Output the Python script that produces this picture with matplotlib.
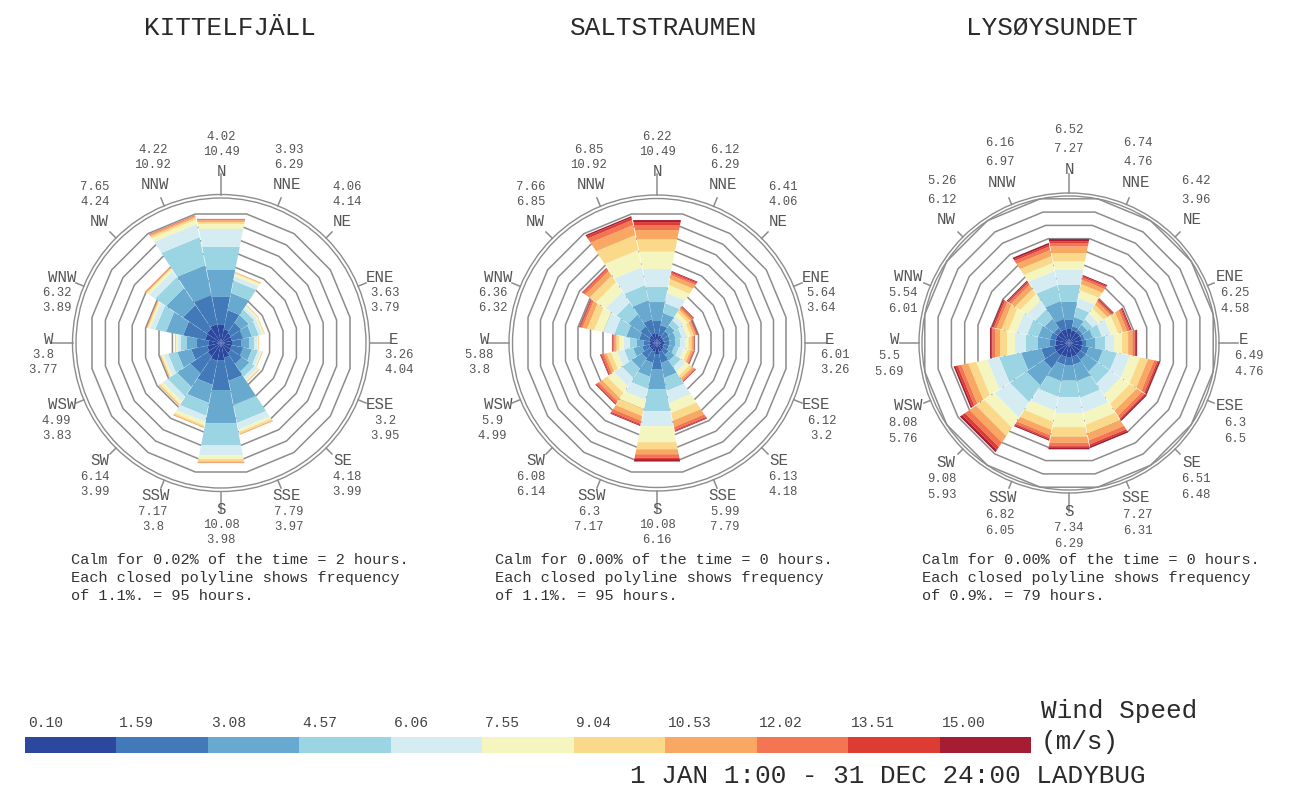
import numpy as np
import matplotlib
matplotlib.use("Agg")
import matplotlib.pyplot as plt
from matplotlib.patches import Polygon, Circle

FIG_W, FIG_H, DPI = 1294, 792, 100
MONO = ['Liberation Mono', 'DejaVu Sans Mono']

# ---------------- data ----------------
directions = ['N', 'NNE', 'NE', 'ENE', 'E', 'ESE', 'SE', 'SSE',
              'S', 'SSW', 'SW', 'WSW', 'W', 'WNW', 'NW', 'NNW']
speed_labels = ['0.10', '1.59', '3.08', '4.57', '6.06', '7.55',
                '9.04', '10.53', '12.02', '13.51', '15.00']
speed_colors = ['#2b479e', '#4279b8', '#68a9cf', '#9bd4e3', '#d5edf2', '#f5f5c0',
                '#fbd98b', '#f8a863', '#f37551', '#dc3c32', '#a51c33']
station_names = ['KITTELFJÄLL', 'SALTSTRAUMEN', 'LYSØYSUNDET']

# frequency (%) per direction and per wind-speed bin
kittelfjall_freq = [
    [0.79, 2.30, 2.21, 1.89, 1.48, 0.41, 0.16, 0.13, 0.10, 0.02, 0.00],
    [0.46, 1.56, 1.40, 0.98, 0.41, 0.19, 0.08, 0.06, 0.00, 0.00, 0.00],
    [0.30, 0.98, 0.74, 0.53, 0.25, 0.12, 0.05, 0.03, 0.00, 0.00, 0.00],
    [0.21, 0.91, 0.74, 0.57, 0.29, 0.12, 0.06, 0.02, 0.00, 0.00, 0.00],
    [0.21, 0.74, 0.66, 0.41, 0.25, 0.09, 0.05, 0.02, 0.00, 0.00, 0.00],
    [0.21, 0.91, 0.74, 0.49, 0.24, 0.10, 0.04, 0.03, 0.00, 0.00, 0.00],
    [0.30, 1.06, 0.74, 0.49, 0.29, 0.12, 0.05, 0.04, 0.00, 0.00, 0.00],
    [0.54, 1.89, 1.97, 1.48, 0.53, 0.25, 0.12, 0.06, 0.02, 0.00, 0.00],
    [0.71, 2.46, 2.71, 1.80, 0.83, 0.32, 0.19, 0.10, 0.04, 0.00, 0.00],
    [0.79, 1.97, 1.48, 1.06, 0.50, 0.28, 0.13, 0.08, 0.00, 0.00, 0.00],
    [0.62, 1.65, 1.31, 0.90, 0.50, 0.24, 0.11, 0.06, 0.00, 0.00, 0.00],
    [0.46, 1.31, 1.15, 0.74, 0.37, 0.17, 0.06, 0.06, 0.00, 0.00, 0.00],
    [0.30, 0.98, 0.82, 0.49, 0.29, 0.12, 0.05, 0.04, 0.00, 0.00, 0.00],
    [0.62, 1.81, 1.40, 0.90, 0.41, 0.16, 0.09, 0.05, 0.03, 0.00, 0.00],
    [0.71, 2.29, 1.65, 1.06, 0.58, 0.20, 0.10, 0.07, 0.04, 0.00, 0.00],
    [0.87, 2.38, 2.46, 2.30, 1.07, 0.37, 0.16, 0.13, 0.08, 0.00, 0.00],
]
saltstraumen_freq = [
    [0.44, 1.14, 1.67, 1.32, 1.58, 1.58, 1.06, 0.79, 0.44, 0.26, 0.18],
    [0.35, 0.88, 1.06, 0.88, 0.88, 0.70, 0.53, 0.35, 0.18, 0.11, 0.07],
    [0.26, 0.62, 0.62, 0.53, 0.44, 0.35, 0.26, 0.22, 0.11, 0.06, 0.04],
    [0.26, 0.53, 0.53, 0.53, 0.44, 0.35, 0.26, 0.18, 0.09, 0.05, 0.04],
    [0.26, 0.44, 0.53, 0.44, 0.44, 0.31, 0.26, 0.16, 0.08, 0.04, 0.03],
    [0.26, 0.44, 0.44, 0.44, 0.44, 0.35, 0.26, 0.18, 0.09, 0.05, 0.04],
    [0.35, 0.53, 0.62, 0.62, 0.53, 0.40, 0.31, 0.18, 0.09, 0.05, 0.04],
    [0.44, 0.97, 1.32, 1.14, 1.06, 0.88, 0.70, 0.53, 0.26, 0.11, 0.06],
    [0.62, 1.32, 1.76, 1.94, 1.32, 1.41, 0.62, 0.44, 0.29, 0.15, 0.20],
    [0.44, 0.97, 1.23, 1.06, 0.97, 0.79, 0.62, 0.44, 0.26, 0.11, 0.07],
    [0.35, 0.88, 1.06, 0.97, 0.88, 0.70, 0.53, 0.35, 0.20, 0.09, 0.06],
    [0.35, 0.62, 0.79, 0.79, 0.62, 0.53, 0.40, 0.26, 0.16, 0.09, 0.06],
    [0.26, 0.53, 0.62, 0.62, 0.53, 0.40, 0.26, 0.19, 0.11, 0.05, 0.04],
    [0.35, 0.88, 1.14, 1.06, 0.97, 0.79, 0.62, 0.40, 0.18, 0.08, 0.05],
    [0.44, 0.97, 1.23, 1.23, 1.14, 0.97, 0.70, 0.44, 0.22, 0.08, 0.05],
    [0.53, 1.23, 1.67, 1.32, 1.58, 1.50, 1.32, 0.88, 0.44, 0.22, 0.13],
]
lysoysundet_freq = [
    [0.19, 0.61, 1.22, 1.15, 1.02, 0.56, 0.57, 0.45, 0.23, 0.12, 0.15],
    [0.12, 0.27, 0.61, 0.68, 0.61, 0.54, 0.41, 0.30, 0.15, 0.09, 0.07],
    [0.12, 0.20, 0.41, 0.41, 0.47, 0.41, 0.30, 0.24, 0.14, 0.08, 0.05],
    [0.12, 0.20, 0.54, 0.61, 0.61, 0.47, 0.37, 0.27, 0.16, 0.08, 0.07],
    [0.12, 0.27, 0.61, 0.68, 0.61, 0.54, 0.41, 0.30, 0.15, 0.09, 0.07],
    [0.16, 0.44, 0.95, 0.95, 0.88, 0.68, 0.54, 0.41, 0.22, 0.10, 0.08],
    [0.16, 0.44, 0.95, 0.95, 0.88, 0.74, 0.54, 0.41, 0.22, 0.10, 0.08],
    [0.19, 0.54, 1.08, 1.15, 1.02, 0.81, 0.61, 0.44, 0.27, 0.14, 0.10],
    [0.19, 0.54, 1.02, 1.15, 1.08, 0.95, 0.64, 0.41, 0.24, 0.12, 0.09],
    [0.19, 0.54, 1.08, 1.08, 0.95, 0.74, 0.54, 0.37, 0.19, 0.10, 0.08],
    [0.26, 1.02, 1.35, 1.35, 1.22, 0.81, 0.68, 0.54, 0.34, 0.24, 0.17],
    [0.26, 0.88, 1.35, 1.49, 0.81, 0.74, 0.54, 0.47, 0.24, 0.16, 0.12],
    [0.16, 0.37, 0.81, 0.81, 0.74, 0.54, 0.47, 0.34, 0.18, 0.09, 0.07],
    [0.16, 0.37, 0.81, 0.74, 0.74, 0.54, 0.47, 0.32, 0.18, 0.10, 0.07],
    [0.16, 0.30, 0.74, 0.74, 0.68, 0.54, 0.44, 0.30, 0.17, 0.10, 0.07],
    [0.19, 0.68, 1.22, 1.08, 0.95, 0.54, 0.47, 0.41, 0.24, 0.12, 0.12],
]

# two numbers printed with each direction label (top-to-bottom order)
kittelfjall_numbers = [('4.02', '10.49'), ('3.93', '6.29'), ('4.06', '4.14'), ('3.63', '3.79'),
                       ('3.26', '4.04'), ('3.2', '3.95'), ('4.18', '3.99'), ('7.79', '3.97'),
                       ('10.08', '3.98'), ('7.17', '3.8'), ('6.14', '3.99'), ('4.99', '3.83'),
                       ('3.8', '3.77'), ('6.32', '3.89'), ('7.65', '4.24'), ('4.22', '10.92')]
saltstraumen_numbers = [('6.22', '10.49'), ('6.12', '6.29'), ('6.41', '4.06'), ('5.64', '3.64'),
                        ('6.01', '3.26'), ('6.12', '3.2'), ('6.13', '4.18'), ('5.99', '7.79'),
                        ('10.08', '6.16'), ('6.3', '7.17'), ('6.08', '6.14'), ('5.9', '4.99'),
                        ('5.88', '3.8'), ('6.36', '6.32'), ('7.66', '6.85'), ('6.85', '10.92')]
lysoysundet_numbers = [('6.52', '7.27'), ('6.74', '4.76'), ('6.42', '3.96'), ('6.25', '4.58'),
                       ('6.49', '4.76'), ('6.3', '6.5'), ('6.51', '6.48'), ('7.27', '6.31'),
                       ('7.34', '6.29'), ('6.82', '6.05'), ('9.08', '5.93'), ('8.08', '5.76'),
                       ('5.5', '5.69'), ('5.54', '6.01'), ('5.26', '6.12'), ('6.16', '6.97')]

calm_percent = ['0.02', '0.00', '0.00']
calm_hours = [2, 0, 0]
ring_percent = [1.1, 1.1, 0.9]
ring_hours = [95, 95, 79]

# ---------------- layout (pixels) ----------------
LAYOUT = [
    dict(cx=221, cy=343, ring_px=13.4, r0_px=8.4, n_rings=9, circles=(145.0, 148.5),
         title_x=230, note_x=71, dn=(16, 31), up=(19, 34), rlab=172),
    dict(cx=657, cy=343, ring_px=12.5, r0_px=4.0, n_rings=10, circles=(144.5, 148.0),
         title_x=664, note_x=495, dn=(16, 31), up=(19, 34), rlab=172),
    dict(cx=1069, cy=343, ring_px=13.3, r0_px=11.2, n_rings=10, circles=(147.0, 150.0),
         title_x=1052, note_x=922, dn=(17, 33), up=(20, 39), rlab=174),
]
HALF = 245
GRID = '#8c8c8c'
LABEL_C = '#555555'
DARK = '#2a2a2a'

fig = plt.figure(figsize=(FIG_W / DPI, FIG_H / DPI), dpi=DPI)

HW = np.deg2rad(11.25)
GAP = np.deg2rad(0.22)
KV = 1.0 / np.cos(HW)


def draw_rose(freq, numbers, ring_pct, L):
    ppp = L['ring_px'] / ring_pct
    cx, cy = L['cx'], L['cy']
    ax = fig.add_axes([(cx - HALF) / FIG_W, 1 - (cy + HALF) / FIG_H,
                       2 * HALF / FIG_W, 2 * HALF / FIG_H])
    lim = HALF / ppp
    ax.set_xlim(-lim, lim)
    ax.set_ylim(-lim, lim)
    ax.axis('off')
    r0 = L['r0_px'] / ppp

    # frequency rings (16-gons)
    ang = np.deg2rad(11.25 + 22.5 * np.arange(16))
    for j in range(1, L['n_rings'] + 1):
        rr = (r0 + j * ring_pct) * KV
        ax.add_patch(Polygon(np.c_[rr * np.sin(ang), rr * np.cos(ang)], closed=True,
                             fill=False, ec=GRID, lw=1.1, zorder=1))
    for rc in L['circles']:
        ax.add_patch(Circle((0, 0), rc / ppp, fill=False, ec=GRID, lw=1.0, zorder=1))

    # wedges
    for i, f in enumerate(freq):
        th = np.deg2rad(22.5 * i)
        a1, a2 = th - HW + GAP, th + HW - GAP
        edges = np.concatenate([[0.0], r0 + np.cumsum(f)])
        for b in range(len(f)):
            if f[b] <= 0:
                continue
            ri = edges[b] * KV if b > 0 else 0.0
            ro = edges[b + 1] * KV
            pts = [(ri * np.sin(a1), ri * np.cos(a1)), (ro * np.sin(a1), ro * np.cos(a1)),
                   (ro * np.sin(a2), ro * np.cos(a2)), (ri * np.sin(a2), ri * np.cos(a2))]
            ax.add_patch(Polygon(pts, closed=True, fc=speed_colors[b], ec='none', lw=0, zorder=2))

    # ticks and labels
    rin = L['circles'][-1] / ppp
    for i, name in enumerate(directions):
        th = np.deg2rad(22.5 * i)
        s, c = np.sin(th), np.cos(th)
        rout = (169 if i % 4 == 0 else 157) / ppp
        ax.plot([rin * s, rout * s], [rin * c, rout * c], color=GRID, lw=1.1, zorder=1)
        x = L['rlab'] * s
        y = L['rlab'] * c
        if c < 0.3:
            y += 4
        if c < -0.9:
            y += 2
        ax.text(x / ppp, y / ppp, name, ha='center', va='center', fontsize=11.3,
                family=MONO, color=LABEL_C)
        n1, n2 = numbers[i]
        xn = (x + 6 * s) / ppp
        if c > 0.5:
            y1, y2 = y + L['up'][1], y + L['up'][0]
        else:
            y1, y2 = y - L['dn'][0], y - L['dn'][1]
        ax.text(xn, y1 / ppp, n1, ha='center', va='center', fontsize=8.8,
                family=MONO, color=LABEL_C)
        ax.text(xn, y2 / ppp, n2, ha='center', va='center', fontsize=8.8,
                family=MONO, color=LABEL_C)


all_freq = [kittelfjall_freq, saltstraumen_freq, lysoysundet_freq]
all_numbers = [kittelfjall_numbers, saltstraumen_numbers, lysoysundet_numbers]

for k in range(3):
    L = LAYOUT[k]
    draw_rose(all_freq[k], all_numbers[k], ring_percent[k], L)
    fig.text(L['title_x'] / FIG_W, 1 - 28 / FIG_H, station_names[k], ha='center', va='center',
             fontsize=18.7, family=MONO, color=DARK)
    notes = [f"Calm for {calm_percent[k]}% of the time = {calm_hours[k]} hours.",
             "Each closed polyline shows frequency",
             f"of {ring_percent[k]}%. = {ring_hours[k]} hours."]
    for j, line in enumerate(notes):
        fig.text(L['note_x'] / FIG_W, 1 - (560 + 18 * j) / FIG_H, line, ha='left', va='center',
                 fontsize=11, family=MONO, color='#333333')

# ---------------- legend ----------------
lx0, lx1, ly0, ly1 = 25, 1031, 737, 753
lax = fig.add_axes([lx0 / FIG_W, 1 - ly1 / FIG_H, (lx1 - lx0) / FIG_W, (ly1 - ly0) / FIG_H])
nb = len(speed_colors)
lax.bar(np.arange(nb), np.ones(nb), width=1.0, align='edge', color=speed_colors, lw=0)
lax.set_xlim(0, nb)
lax.set_ylim(0, 1)
lax.axis('off')
for i, lab in enumerate(speed_labels):
    lax.text(i + 0.03, 1 + 14 / (ly1 - ly0), lab, transform=lax.get_xaxis_transform(),
             ha='left', va='center', fontsize=10.5, family=MONO, color='#444444')

fig.text(1041 / FIG_W, 1 - 711 / FIG_H, 'Wind Speed', ha='left', va='center',
         fontsize=18.7, family=MONO, color=DARK)
fig.text(1041 / FIG_W, 1 - 742 / FIG_H, '(m/s)', ha='left', va='center',
         fontsize=18.7, family=MONO, color=DARK)
fig.text(630 / FIG_W, 1 - 776 / FIG_H, '1 JAN 1:00 - 31 DEC 24:00 LADYBUG', ha='left',
         va='center', fontsize=18.7, family=MONO, color=DARK)

fig.savefig('out.png', dpi=DPI, facecolor='white')
